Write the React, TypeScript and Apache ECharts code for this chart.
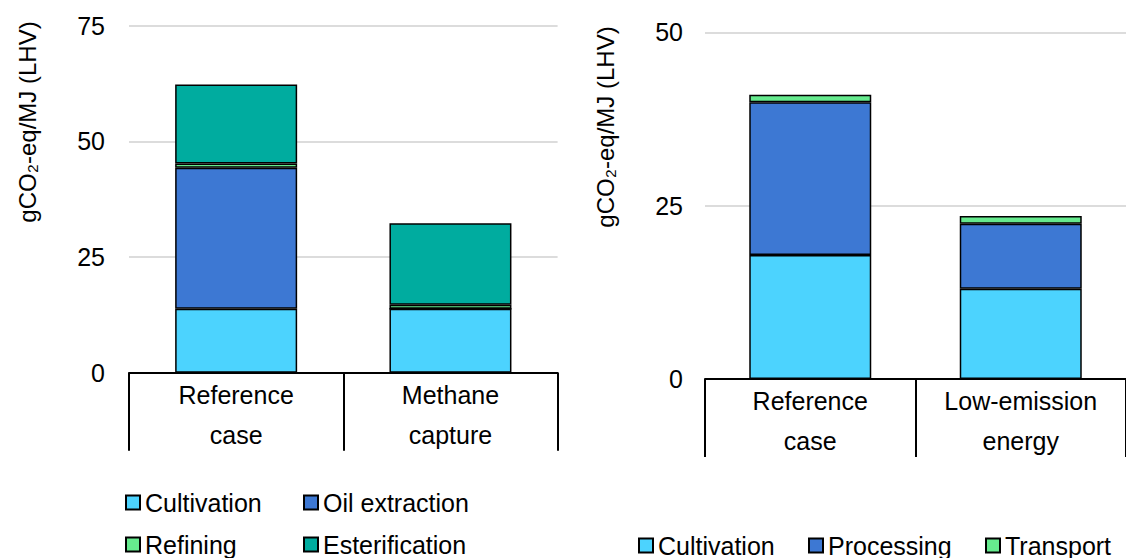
import React, { useEffect, useRef } from "react";
import * as echarts from "echarts";

const leftCategories = ["Reference\ncase", "Methane\ncapture"];
const leftCultivation = [13.8, 13.8];
const leftOilExtraction = [30.5, 0];
const leftRefining = [0.9, 0.9];
const leftEsterification = [17.1, 17.6];
const leftAxisMax = 75;

const rightCategories = ["Reference\ncase", "Low-emission\nenergy"];
const rightCultivation = [17.9, 13.0];
const rightProcessing = [22.0, 9.4];
const rightTransport = [1.1, 1.1];
const rightAxisMax = 50;

const axisInterval = 25;
const yTitle = "gCO\u2082-eq/MJ (LHV)";

const C_CULT = "#4CD3FE";
const C_BLUE = "#3D78D3";
const C_GREEN = "#66EA8E";
const C_TEAL = "#00AC9F";

const FONT = "'Liberation Sans', Arial, sans-serif";

export default function App() {
  const ref = useRef<HTMLDivElement>(null);
  useEffect(() => {
    document.body.style.margin = "0";
    const chart = echarts.init(ref.current!, null, { renderer: "svg" });
    const border = { borderColor: "#000", borderWidth: 1.5 };
    const xAxisCommon = (gridIndex: number, data: string[]) => ({
      type: "category",
      gridIndex,
      data,
      boundaryGap: true,
      axisLine: { show: true, lineStyle: { color: "#000", width: 2 } },
      axisTick: { show: true, interval: 0, length: 78, lineStyle: { color: "#000", width: 2 } },
      axisLabel: {
        interval: 0,
        fontSize: 25,
        lineHeight: 40,
        margin: 2,
        color: "#000",
        fontFamily: FONT,
      },
    });
    const yAxisCommon = (gridIndex: number, max: number, margin: number) => ({
      type: "value",
      gridIndex,
      min: 0,
      max,
      interval: axisInterval,
      axisLine: { show: false },
      axisTick: { show: false },
      splitLine: { show: true, lineStyle: { color: "#DCDCDC", width: 2 } },
      axisLabel: { fontSize: 25, color: "#000", margin, fontFamily: FONT },
    });
    const bar = (name: string, xi: number, stack: string, data: number[], color: string) => ({
      name,
      type: "bar",
      xAxisIndex: xi,
      yAxisIndex: xi,
      stack,
      data,
      barWidth: 122,
      itemStyle: { color, ...border },
    });
    const legend = (name: string, left: number, centerY: number) => ({
      data: [name],
      left,
      top: centerY - 12,
      padding: 0,
      itemWidth: 14,
      itemHeight: 14,
      itemGap: 0,
      icon: "rect",
      selectedMode: false,
      textStyle: { fontSize: 25, lineHeight: 24, color: "#000", fontFamily: FONT, padding: [0, 0, 0, 0] },
    });
    chart.setOption({
      animation: false,
      backgroundColor: "#fff",
      textStyle: { fontFamily: FONT },
      grid: [
        { left: 129, top: 25.6, width: 428.6, height: 347.1 },
        { left: 705, top: 32.3, width: 430, height: 346.7 },
      ],
      xAxis: [xAxisCommon(0, leftCategories), xAxisCommon(1, rightCategories)],
      yAxis: [yAxisCommon(0, leftAxisMax, 24), yAxisCommon(1, rightAxisMax, 22)],
      legend: [
        legend("Cultivation", 125, 502),
        legend("Oil extraction", 303, 502),
        legend("Refining", 125, 544),
        legend("Esterification", 303, 544),
        legend("Cultivation", 638, 545),
        legend("Processing", 808, 545),
        legend("Transport", 985, 545),
      ],
      series: [
        bar("Cultivation", 0, "left", leftCultivation, C_CULT),
        bar("Oil extraction", 0, "left", leftOilExtraction, C_BLUE),
        bar("Refining", 0, "left", leftRefining, C_GREEN),
        bar("Esterification", 0, "left", leftEsterification, C_TEAL),
        bar("Cultivation", 1, "right", rightCultivation, C_CULT),
        bar("Processing", 1, "right", rightProcessing, C_BLUE),
        bar("Transport", 1, "right", rightTransport, C_GREEN),
      ],
      graphic: [
        {
          type: "text",
          x: 27,
          y: 122,
          rotation: Math.PI / 2,
          style: {
            text: yTitle,
            font: `24px ${FONT}`,
            fill: "#000",
            textAlign: "center",
            textVerticalAlign: "middle",
          },
        },
        {
          type: "text",
          x: 605,
          y: 127,
          rotation: Math.PI / 2,
          style: {
            text: yTitle,
            font: `24px ${FONT}`,
            fill: "#000",
            textAlign: "center",
            textVerticalAlign: "middle",
          },
        },
      ],
    });
    return () => chart.dispose();
  }, []);
  return <div ref={ref} style={{ width: 1126, height: 558 }} />;
}
